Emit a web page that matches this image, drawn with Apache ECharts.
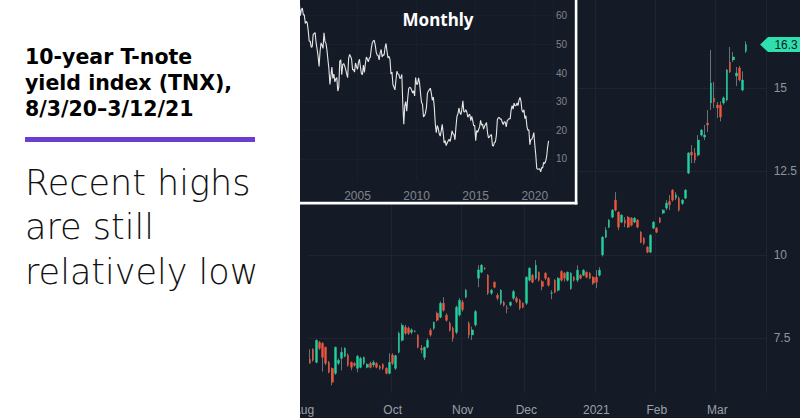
<!DOCTYPE html>
<html>
<head>
<meta charset="utf-8">
<script src="https://cdn.jsdelivr.net/npm/echarts/dist/echarts.min.js"></script>
<style>
html,body{margin:0;padding:0;background:#fff;}
#c{width:800px;height:418px;}
</style>
</head>
<body>
<div id="c"></div>
<script>
// ---------- Daily TNX candles (8/25/20 - 3/12/21) ----------
const dates = [
 '2020-08-25','2020-08-26','2020-08-27','2020-08-28','2020-08-31',
 '2020-09-01','2020-09-02','2020-09-03','2020-09-04','2020-09-08','2020-09-09','2020-09-10','2020-09-11','2020-09-14','2020-09-15','2020-09-16','2020-09-17','2020-09-18','2020-09-21','2020-09-22','2020-09-23','2020-09-24','2020-09-25','2020-09-28','2020-09-29','2020-09-30',
 '2020-10-01','2020-10-02','2020-10-05','2020-10-06','2020-10-07','2020-10-08','2020-10-09','2020-10-12','2020-10-13','2020-10-14','2020-10-15','2020-10-16','2020-10-19','2020-10-20','2020-10-21','2020-10-22','2020-10-23','2020-10-26','2020-10-27','2020-10-28','2020-10-29','2020-10-30',
 '2020-11-02','2020-11-03','2020-11-04','2020-11-05','2020-11-06','2020-11-09','2020-11-10','2020-11-11','2020-11-12','2020-11-13','2020-11-16','2020-11-17','2020-11-18','2020-11-19','2020-11-20','2020-11-23','2020-11-24','2020-11-25','2020-11-27','2020-11-30',
 '2020-12-01','2020-12-02','2020-12-03','2020-12-04','2020-12-07','2020-12-08','2020-12-09','2020-12-10','2020-12-11','2020-12-14','2020-12-15','2020-12-16','2020-12-17','2020-12-18','2020-12-21','2020-12-22','2020-12-23','2020-12-24','2020-12-28','2020-12-29','2020-12-30','2020-12-31',
 '2021-01-04','2021-01-05','2021-01-06','2021-01-07','2021-01-08','2021-01-11','2021-01-12','2021-01-13','2021-01-14','2021-01-15','2021-01-19','2021-01-20','2021-01-21','2021-01-22','2021-01-25','2021-01-26','2021-01-27','2021-01-28','2021-01-29',
 '2021-02-01','2021-02-02','2021-02-03','2021-02-04','2021-02-05','2021-02-08','2021-02-09','2021-02-10','2021-02-11','2021-02-12','2021-02-16','2021-02-17','2021-02-18','2021-02-19','2021-02-22','2021-02-23','2021-02-24','2021-02-25','2021-02-26',
 '2021-03-01','2021-03-02','2021-03-03','2021-03-04','2021-03-05','2021-03-08','2021-03-09','2021-03-10','2021-03-11','2021-03-12'
];
// empty future slots at the right edge of the price pane
const futureDates = ['2021-03-15','2021-03-16','2021-03-17','2021-03-18','2021-03-19','2021-03-22'];

const opens = [
 6.87,7.17,6.78,7.38,7.35,
 7.23,6.78,6.60,6.45,6.75,6.90,6.96,7.00,6.78,6.75,6.60,6.63,6.75,6.63,6.75,6.70,6.75,6.66,6.72,6.60,6.45,
 7.00,6.60,7.08,7.44,7.83,7.80,7.68,7.72,7.59,7.20,6.93,7.23,7.74,7.80,8.25,8.13,8.55,8.19,7.95,7.80,7.68,8.20,
 8.58,8.73,7.95,7.60,7.90,9.30,9.48,9.60,9.39,8.85,9.18,8.79,8.55,8.58,8.40,8.49,8.70,8.70,8.64,8.55,
 8.55,9.24,9.39,9.30,9.48,9.20,9.45,9.30,8.85,9.24,8.94,9.50,9.45,9.24,8.99,9.33,9.24,9.39,9.39,9.48,9.45,9.33,
 9.33,9.39,10.00,10.53,10.83,11.13,11.64,11.28,10.98,11.04,11.13,11.10,10.98,11.04,10.68,10.50,10.23,10.08,10.80,
 10.80,11.10,11.25,11.40,11.60,11.94,11.70,11.70,11.54,11.70,12.45,13.08,13.05,12.99,13.59,13.53,13.95,14.55,14.70,
 14.49,14.49,14.55,14.64,15.78,15.84,15.36,15.60,14.94,16.10
];
const closes = [
 6.75,6.84,7.44,7.20,6.93,
 6.75,6.48,6.18,7.23,6.84,7.08,7.20,6.69,6.63,6.69,6.96,6.90,6.93,6.72,6.63,6.78,6.63,6.60,6.60,6.45,6.78,
 6.75,6.98,7.65,7.89,7.65,7.65,7.75,7.70,7.23,7.15,7.23,7.44,7.60,7.98,8.04,8.55,8.34,8.04,7.74,7.50,8.43,8.64,
 8.36,8.94,7.60,7.75,8.30,9.55,9.69,9.58,8.85,8.94,9.03,8.70,8.94,8.49,8.40,8.58,8.90,8.60,8.40,8.43,
 9.33,9.60,9.18,9.69,9.24,9.05,9.30,9.09,8.86,8.88,9.30,9.24,9.30,9.48,9.45,9.24,9.54,9.30,9.54,9.33,9.30,9.15,
 9.18,9.54,10.53,10.74,11.04,11.34,11.34,10.83,11.19,10.95,10.83,10.89,11.10,10.83,10.38,10.35,10.08,10.59,10.98,
 10.68,10.98,11.34,11.55,11.50,11.64,11.80,11.34,11.64,11.94,13.05,12.99,12.84,13.44,13.74,13.59,13.89,15.15,14.58,
 14.40,14.13,14.70,15.54,15.48,15.93,15.45,15.24,15.24,16.30
];
const lows = [
 6.74,6.80,6.75,7.15,6.50,
 6.70,6.45,6.09,6.40,6.70,6.54,6.93,6.65,6.54,6.65,6.48,6.60,6.70,6.60,6.60,6.63,6.60,6.55,6.55,6.42,6.42,
 6.70,6.55,7.05,7.40,7.60,7.60,7.62,7.68,7.20,7.05,6.85,7.20,7.55,7.75,8.00,8.10,8.30,8.00,7.70,7.40,7.62,8.15,
 8.30,8.70,7.50,7.45,7.85,9.03,9.45,9.55,8.80,8.80,9.00,8.64,8.50,8.45,8.25,8.45,8.65,8.55,8.35,8.40,
 8.50,9.20,9.15,9.25,9.20,8.94,9.25,9.05,8.67,8.85,8.90,9.20,9.20,9.20,8.95,9.20,9.18,9.27,9.36,9.30,9.27,9.10,
 9.00,9.35,9.95,10.50,10.80,11.10,11.30,10.74,10.95,10.83,10.80,10.85,10.95,10.80,10.35,10.30,10.05,10.05,10.77,
 10.65,10.95,11.22,11.34,11.34,11.60,11.64,11.30,11.50,11.67,12.42,12.75,12.75,12.95,13.55,13.44,13.68,14.34,14.40,
 14.10,14.00,14.50,14.60,15.45,15.78,15.06,15.20,14.90,16.05
];
const highs = [
 7.17,7.20,7.46,7.42,7.38,
 7.25,6.82,6.62,7.25,6.90,7.23,7.23,7.05,6.80,6.78,7.00,6.95,6.95,6.75,6.80,6.84,6.78,6.70,6.75,6.63,7.05,
 7.05,7.00,7.70,7.95,7.90,7.85,7.80,7.74,7.62,7.30,7.25,7.50,7.80,8.00,8.30,8.60,8.73,8.25,8.00,7.85,8.48,8.70,
 8.65,8.98,8.00,7.85,8.35,9.69,9.72,9.63,9.42,8.98,9.20,8.85,8.97,8.62,8.49,8.60,8.95,8.75,8.68,8.58,
 9.36,9.63,9.42,9.84,9.50,9.24,9.48,9.33,8.94,9.27,9.33,9.54,9.48,9.50,9.48,9.36,9.69,9.42,9.57,9.50,9.48,9.36,
 9.54,9.63,10.56,10.83,11.07,11.37,11.88,11.30,11.22,11.13,11.16,11.13,11.13,11.07,10.71,10.53,10.26,10.62,11.01,
 10.83,11.13,11.37,11.64,11.79,11.97,11.88,11.75,11.67,11.97,13.08,13.29,13.20,13.59,13.77,13.89,14.34,16.14,15.18,
 14.58,14.60,14.75,15.57,16.23,16.08,15.63,15.66,15.50,16.40
];
const mainTickDates  = ['2020-08-25','2020-10-01','2020-11-02','2020-12-01','2021-01-04','2021-02-01','2021-03-01'];
const mainTickLabels = ['Aug','Oct','Nov','Dec','2021','Feb','Mar'];
const priceTicks = [7.5, 10, 12.5, 15];

// ---------- Monthly TNX (inset), Jan 2000 - Mar 2021 ----------
const monthlyYears = [2000,2001,2002,2003,2004,2005,2006,2007,2008,2009,2010,2011,2012,2013,2014,2015,2016,2017,2018,2019,2020,2021];
const monthlyByYear = [
 [66.8,64.1,60.0,62.1,62.7,60.3,60.3,57.3,58.0,57.5,54.7,51.1],
 [51.1,49.0,49.2,53.4,53.8,54.1,50.5,48.3,45.9,42.3,47.5,50.5],
 [49.7,48.6,54.0,50.9,50.4,48.0,44.6,41.4,36.0,38.9,42.1,38.1],
 [39.6,36.9,38.0,38.4,33.7,35.1,44.1,44.6,39.4,42.9,43.3,42.5],
 [41.3,39.7,38.4,45.1,46.5,45.8,44.8,41.2,41.2,40.3,43.5,42.2],
 [41.3,43.6,44.8,42.0,39.8,39.4,42.8,40.2,43.3,45.6,44.9,43.9],
 [45.2,45.5,48.5,50.5,51.2,51.4,49.8,47.3,46.3,46.1,44.6,47.0],
 [48.2,45.6,46.4,46.2,48.9,50.3,47.4,45.3,45.8,44.7,39.7,40.3],
 [35.9,35.1,34.1,37.3,40.6,39.7,39.5,38.1,38.3,39.5,29.2,22.1],
 [28.5,30.0,26.7,31.2,34.6,35.0,34.8,34.0,33.0,33.8,32.0,38.4],
 [36.1,36.1,38.3,36.6,32.9,29.7,29.1,24.7,25.1,26.0,27.9,32.9],
 [33.7,34.2,34.7,32.9,30.5,31.6,28.0,22.2,19.2,21.7,20.7,18.8],
 [18.0,19.8,22.1,19.1,15.6,16.4,14.7,15.5,16.3,16.9,16.1,17.6],
 [19.8,18.8,18.5,16.7,21.3,24.9,25.8,27.8,26.1,25.5,27.4,30.3],
 [26.4,26.5,27.2,26.4,24.6,25.3,25.6,23.4,24.9,23.4,21.6,21.7],
 [16.4,19.9,19.3,20.3,21.2,23.5,21.8,22.2,20.4,21.4,22.1,22.7],
 [19.2,17.4,17.7,18.3,18.5,14.7,14.5,15.8,15.9,18.3,23.7,24.4],
 [24.5,23.9,23.9,22.8,22.0,23.0,22.9,21.2,23.3,23.8,24.1,24.0],
 [27.2,28.6,27.4,29.5,28.6,28.6,29.6,28.6,30.6,31.5,30.1,26.9],
 [26.3,27.2,24.1,25.1,21.4,20.0,20.2,15.0,16.8,16.9,17.8,19.2],
 [15.1,11.5,6.7,6.4,6.5,6.6,5.5,7.0,6.9,8.8,8.4,9.2],
 [10.7,14.0,16.3]
];
const insetTickMonths = ['2005-01','2010-01','2015-01','2020-01'];
const insetTickLabels = ['2005','2010','2015','2020'];
const insetValueTicks = [10,20,30,40,50,60];

// ---------- text ----------
const titleLines = ['10-year T-note','yield index (TNX),','8/3/20\u20133/12/21'];
const subtitleLines = ['Recent highs','are still','relatively low'];
const insetTitle = 'Monthly';

// ---------- build ----------
const months = [], monthly = [];
monthlyYears.forEach((y, yi) => {
  monthlyByYear[yi].forEach((v, mi) => {
    months.push(y + '-' + String(mi + 1).padStart(2, '0'));
    monthly.push(v);
  });
});
const insetPad = ['2021-04','2021-05','2021-06','2021-07'];

const allDates = dates.concat(futureDates);
const wickData = dates.map((d, i) => [opens[i], closes[i], lows[i], highs[i]]);
const bodyData = dates.map((d, i) => [opens[i], closes[i], Math.min(opens[i], closes[i]), Math.max(opens[i], closes[i])]);
const lastClose = closes[closes.length - 1];

const UP = '#22d3a0', DOWN = '#f1553a', WICK = '#6b7079';
const BG = '#151b26', GRID = '#1d2531';

const chart = echarts.init(document.getElementById('c'), null, {renderer: 'svg'});

const graphics = [
  {type:'rect', shape:{x:298, y:0, width:278, height:203}, style:{fill:BG}, z:1},
  {type:'rect', shape:{x:574.8, y:0, width:2.6, height:204.4}, style:{fill:'#ffffff'}, z:50},
  {type:'rect', shape:{x:296, y:201.8, width:281.4, height:2.6}, style:{fill:'#ffffff'}, z:50},
  {type:'rect', shape:{x:0, y:0, width:300, height:418}, style:{fill:'#ffffff'}, z:100},
  {type:'rect', shape:{x:25, y:137, width:230, height:5}, style:{fill:'#6a3dcc'}, z:101}
];
const titleY = [57, 83, 109];
titleLines.forEach((t, i) => graphics.push({
  type:'text', x:25, y:titleY[i], z:101,
  style:{text:t, fill:'#000', fontFamily:'DejaVu Sans', fontWeight:'bold', fontSize:20.5, lineHeight:24, verticalAlign:'middle', align:'left'}
}));
const subY = [182.5, 227, 271.5];
subtitleLines.forEach((t, i) => graphics.push({
  type:'text', x:25, y:subY[i], z:101,
  style:{text:t, fill:'#111', fontFamily:'DejaVu Sans', fontWeight:200, fontSize:35, lineHeight:40, verticalAlign:'middle', align:'left'}
}));

const option = {
  backgroundColor: BG,
  animation: false,
  title: {
    text: insetTitle, left: 433, top: 6, textAlign: 'center',
    textStyle: {color:'#ffffff', fontSize:17, fontWeight:'bold', fontFamily:'Noto Sans'}
  },
  grid: [
    {left: 308.3, width: 460.2, top: 0, height: 393},
    {left: 297.9, width: 255.1, top: 0, height: 180}
  ],
  xAxis: [
    {
      type:'category', gridIndex:0, data: allDates, boundaryGap:true,
      axisLine:{show:false}, axisTick:{show:false},
      axisLabel:{
        color:'#9aa0a8', fontSize:12, fontFamily:'Liberation Sans', margin:11,
        interval:(idx, val) => mainTickDates.indexOf(val) >= 0,
        formatter:(val, idx) => {
          const k = mainTickDates.indexOf(val);
          if (k < 0) return '';
          return k === 0 ? '{first|' + mainTickLabels[k] + '}' : mainTickLabels[k];
        },
        rich:{first:{color:'#9aa0a8', fontSize:12, fontFamily:'Liberation Sans', padding:[0,13,0,0]}}
      },
      splitLine:{show:true, interval:(idx, val) => mainTickDates.indexOf(val) > 0, lineStyle:{color:GRID, width:1}}
    },
    {
      type:'category', gridIndex:1, data: months.concat(insetPad), boundaryGap:true, z:3,
      axisLine:{show:false}, axisTick:{show:false},
      axisLabel:{
        color:'#7f858e', fontSize:12, fontFamily:'Liberation Sans', margin:10,
        interval:(idx, val) => insetTickMonths.indexOf(val) >= 0,
        formatter:(val) => { const k = insetTickMonths.indexOf(val); return k < 0 ? '' : insetTickLabels[k]; }
      },
      splitLine:{show:true, interval:(idx, val) => insetTickMonths.indexOf(val) >= 0, lineStyle:{color:'#19202b', width:1}}
    }
  ],
  yAxis: [
    {
      type:'value', gridIndex:0, position:'right', min:5.86, max:17.637, scale:true,
      axisLine:{show:true, lineStyle:{color:GRID}}, axisTick:{show:false, customValues:priceTicks},
      axisLabel:{color:'#8f959e', fontSize:12, fontFamily:'Liberation Sans', margin:7, customValues:priceTicks},
      splitLine:{show:true, lineStyle:{color:GRID, width:1}}
    },
    {
      type:'value', gridIndex:1, position:'right', min:2.67, max:65.48, z:3,
      axisLine:{show:true, lineStyle:{color:'#19202b'}}, axisTick:{show:false, customValues:insetValueTicks},
      axisLabel:{color:'#7f858e', fontSize:10, fontFamily:'Liberation Sans', margin:3, customValues:insetValueTicks},
      splitLine:{show:true, lineStyle:{color:'#19202b', width:1}}
    }
  ],
  series: [
    {
      type:'candlestick', name:'wick', xAxisIndex:0, yAxisIndex:0, data:wickData, barWidth:1, z:3,
      itemStyle:{color:WICK, color0:WICK, borderColor:WICK, borderColor0:WICK, borderWidth:1}
    },
    {
      type:'candlestick', name:'TNX', xAxisIndex:0, yAxisIndex:0, data:bodyData, barWidth:2.2, z:4,
      itemStyle:{color:UP, color0:DOWN, borderColor:UP, borderColor0:DOWN, borderWidth:0.4},
      markPoint:{
        silent:true,
        symbol:'path://M0,7.5 L8,0 L44,0 L44,15 L8,15 Z',
        symbolSize:[44,15], symbolOffset:[17,0],
        itemStyle:{color:'#2fe0ae'},
        label:{show:true, position:'inside', offset:[4,0], color:'#111820', fontSize:12, fontFamily:'Liberation Sans',
               formatter:() => lastClose.toFixed(1)},
        data:[{coord:[futureDates[futureDates.length - 1], lastClose]}]
      }
    },
    {
      type:'line', name:'Monthly', xAxisIndex:1, yAxisIndex:1, data:monthly, z:5,
      showSymbol:false, symbol:'none', lineStyle:{color:'#e6e6e6', width:1.1}
    }
  ],
  graphic: graphics
};
chart.setOption(option);
</script>
</body>
</html>
